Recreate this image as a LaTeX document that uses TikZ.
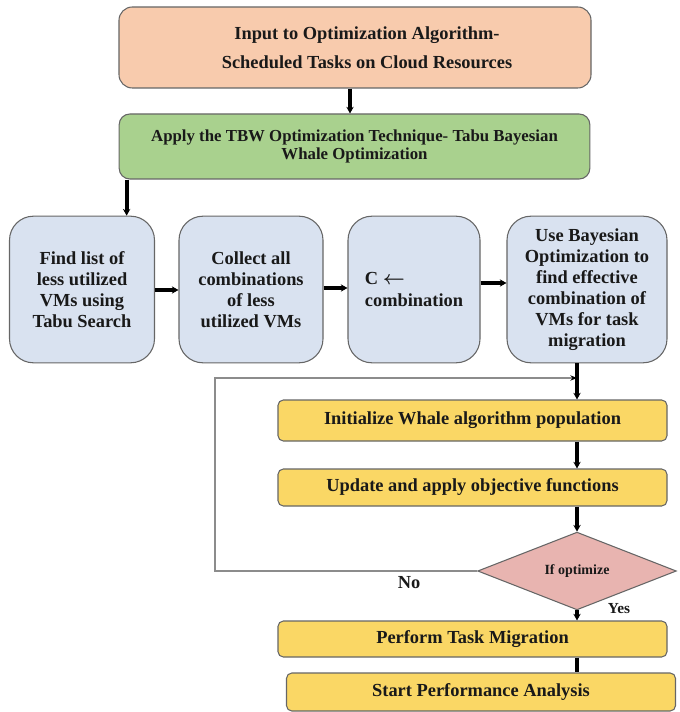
\documentclass[tikz,border=0pt]{standalone}
\usepackage{fontspec}
\setmainfont{Liberation Serif}
\usetikzlibrary{shapes.geometric,arrows.meta}
\definecolor{peach}{HTML}{F8CBAD}
\definecolor{leaf}{HTML}{A9D18E}
\definecolor{sky}{HTML}{D9E2F0}
\definecolor{gold}{HTML}{FAD765}
\definecolor{rose}{HTML}{E8B4B0}
\begin{document}
\begin{tikzpicture}
        [
          x=0.75pt, y=-0.75pt,
          every node/.style={font=\bfseries\fontsize{13.8}{15.8}\selectfont, text=black!90},
          box/.style={draw=black!60, line width=0.8pt, align=center, inner sep=2pt},
          topbox/.style={box, fill=peach, rounded corners=10pt, minimum width=354pt, minimum height=60.75pt},
          techbox/.style={box, fill=leaf, rounded corners=8pt, minimum width=353pt, minimum height=48.75pt,
                          font=\bfseries\fontsize{12.6}{13.6}\selectfont},
          vmbox/.style={box, fill=sky, rounded corners=18pt, minimum height=110pt},
          stepbox/.style={box, fill=gold, rounded corners=4pt, minimum width=291.75pt},
          decide/.style={draw=black!60, line width=0.8pt, fill=rose, diamond, inner sep=0pt,
                         minimum width=149pt, minimum height=50pt,
                         font=\bfseries\fontsize{10.5}{12}\selectfont},
          arr/.style={line width=2.8pt, -{Stealth[length=5pt,width=5.5pt]}},
          loopline/.style={draw=black!45, line width=1.2pt, -{Stealth[length=5pt,width=4pt,black]}}
        ]
        \useasboundingbox (0,0) rectangle (679,712);
        % input and technique
        \node [topbox] (input) at (355,47.5)
          {\hspace*{18pt}Input to Optimization Algorithm-\\[6pt]\hspace*{18pt}Scheduled Tasks on Cloud Resources};
        \node [techbox] (tbw) at (354.5,146.5)
          {Apply the TBW Optimization Technique- Tabu Bayesian\\Whale Optimization};
        % VM boxes
        \node [vmbox, minimum width=108.75pt] (find) at (82,289.5)
          {Find list of\\less utilized\\VMs using\\Tabu Search};
        \node [vmbox, minimum width=108pt] (collect) at (251,289.5)
          {Collect all\\combinations\\of less\\utilized VMs};
        \node [vmbox, minimum width=99pt, align=left] (comb) at (414,289.5)
          {C {\boldmath$\leftarrow$}\\combination};
        \node [vmbox, minimum width=120pt] (bayes) at (587,289.5)
          {Use Bayesian\\Optimization to\\find effective\\combination of\\VMs for task\\migration};
        % whale steps
        \node [stepbox, minimum height=30.75pt] (init) at (472.5,420.5)
          {Initialize Whale algorithm population};
        \node [stepbox, minimum height=27.75pt] (update) at (472.5,487.5)
          {Update and apply objective functions};
        \node [decide] (opt) at (577,571) {If optimize};
        \node [stepbox, minimum height=27pt] (migrate) at (472.5,639)
          {Perform Task Migration};
        \node [stepbox, minimum height=28.5pt] (perf) at (481,692)
          {Start Performance Analysis};
        % labels
        \node (no) at (409,583) {No};
        \node [font=\bfseries\fontsize{11.5}{13}\selectfont] (yes) at (619,609) {Yes};
        \coordinate (loop) at (215,378);
        % edges
        \draw [arr] (input.south -| 350,0) -- (tbw.north -| 350,0);
        \draw [arr] ([xshift=6pt]tbw.south west) -- ([xshift=6pt]tbw.south west |- find.north);
        \draw [arr] (find.east |- 0,290) -- (collect.west |- 0,290);
        \draw [arr] (collect.east |- 0,288) -- (comb.west |- 0,288);
        \draw [arr] (comb.east |- 0,283) -- (bayes.west |- 0,283);
        \draw [arr] (bayes.south -| opt.north) -- (init.north -| opt.north);
        \draw [arr] (init.south -| opt.north) -- (update.north -| opt.north);
        \draw [arr] (update.south -| opt.north) -- (opt.north);
        \draw [arr] (opt.south) -- (migrate.north -| opt.south);
        \draw [line width=2.8pt] (migrate.south -| opt.south) -- (perf.north -| opt.south);
        \draw [loopline] (opt.west) -| (loop) -- (loop -| opt.north);
\end{tikzpicture}
\end{document}
